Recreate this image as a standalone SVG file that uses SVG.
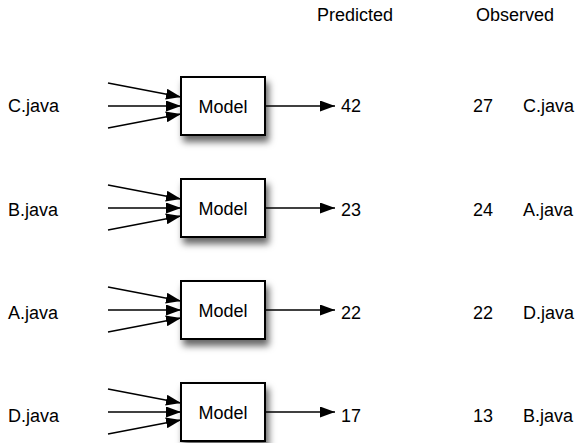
<svg xmlns="http://www.w3.org/2000/svg" width="577" height="443" viewBox="0 0 577 443">
<defs>
<marker id="ah" markerUnits="userSpaceOnUse" markerWidth="15" markerHeight="11" refX="15" refY="5.5" orient="auto"><path d="M0,0 L15,5.5 L0,11 z" fill="#000"/></marker>
<filter id="sh" x="-20%" y="-20%" width="150%" height="170%"><feDropShadow dx="3" dy="6" stdDeviation="3.5" flood-color="#000" flood-opacity="0.6"/></filter>
</defs>
<style>
text{font-family:"Liberation Sans",Arial,sans-serif;font-size:18px;fill:#000}
.box{fill:#fff;stroke:#000;stroke-width:2;filter:url(#sh)}
.c line{stroke:#000;stroke-width:1.5;marker-end:url(#ah)}
</style>
<rect width="577" height="443" fill="#fff"/>
<text x="317" y="21">Predicted</text>
<text x="476" y="21">Observed</text>
<g id="row1">
<text x="8" y="112">C.java</text>
<g id="model1"><rect class="box" x="181" y="77" width="84" height="58"/><text x="223" y="113" text-anchor="middle">Model</text></g>
<text x="341" y="112">42</text>
<text x="473" y="112">27</text>
<text x="523" y="112">C.java</text>
</g>
<g id="row2">
<text x="8" y="216">B.java</text>
<g id="model2"><rect class="box" x="181" y="179" width="84" height="58"/><text x="223" y="215" text-anchor="middle">Model</text></g>
<text x="341" y="216">23</text>
<text x="473" y="216">24</text>
<text x="523" y="216">A.java</text>
</g>
<g id="row3">
<text x="8" y="319">A.java</text>
<g id="model3"><rect class="box" x="181" y="281" width="84" height="58"/><text x="223" y="317" text-anchor="middle">Model</text></g>
<text x="341" y="319">22</text>
<text x="473" y="319">22</text>
<text x="523" y="319">D.java</text>
</g>
<g id="row4">
<text x="8" y="422">D.java</text>
<g id="model4"><rect class="box" x="181" y="383" width="84" height="58"/><text x="223" y="419" text-anchor="middle">Model</text></g>
<text x="341" y="422">17</text>
<text x="473" y="422">13</text>
<text x="523" y="422">B.java</text>
</g>
<g id="connectors" class="c">
<line x1="108" y1="83" x2="181" y2="97"/><line x1="108" y1="106" x2="181" y2="106"/><line x1="108" y1="128" x2="181" y2="114"/>
<line x1="265" y1="106" x2="335" y2="106"/>
<line x1="108" y1="185" x2="181" y2="199"/><line x1="108" y1="208" x2="181" y2="208"/><line x1="108" y1="230" x2="181" y2="216"/>
<line x1="265" y1="208" x2="335" y2="208"/>
<line x1="108" y1="287" x2="181" y2="301"/><line x1="108" y1="310" x2="181" y2="310"/><line x1="108" y1="332" x2="181" y2="318"/>
<line x1="265" y1="310" x2="335" y2="310"/>
<line x1="108" y1="389" x2="181" y2="403"/><line x1="108" y1="412" x2="181" y2="412"/><line x1="108" y1="434" x2="181" y2="420"/>
<line x1="265" y1="412" x2="335" y2="412"/>
</g>
</svg>
